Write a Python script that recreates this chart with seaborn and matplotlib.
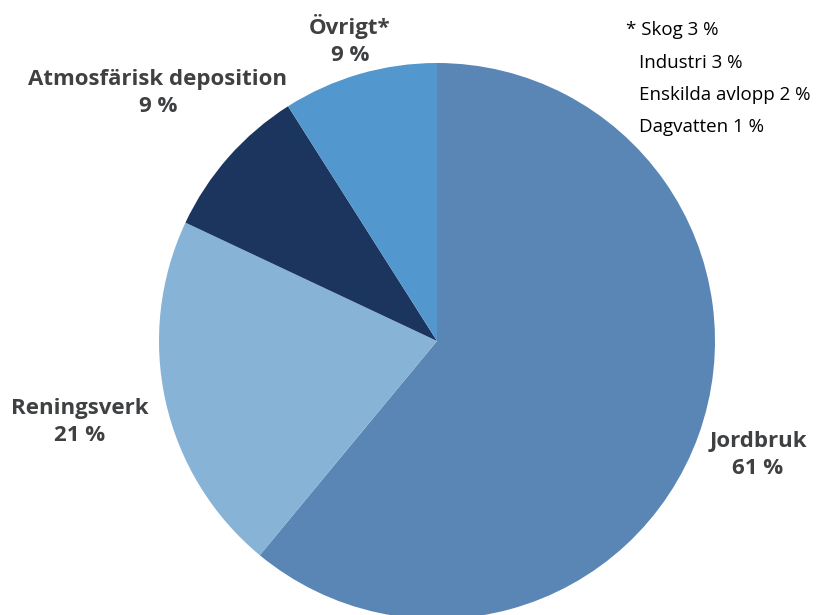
import matplotlib
matplotlib.use("Agg")
import matplotlib.pyplot as plt
import seaborn as sns

sns.set_theme(style="white")
plt.rcParams["font.family"] = ["Open Sans", "DejaVu Sans"]

# Sources of the load, in percent, clockwise from the top
categories = ["Jordbruk", "Reningsverk", "Atmosfärisk deposition", "Övrigt*"]
shares = [61, 21, 9, 9]
colors = ["#5a86b5", "#87b3d6", "#1c355e", "#5297cd"]

# Breakdown of the "Övrigt" group
other_names = ["Skog", "Industri", "Enskilda avlopp", "Dagvatten"]
other_shares = [3, 3, 2, 1]

W, H = 817, 615
fig = plt.figure(figsize=(W / 100, H / 100), dpi=100)
ax = fig.add_axes([0, 0, 1, 1])

# Pie centre and radius in pixels
cx, cy, r = 437, 341, 278

ax.pie(shares, colors=colors, startangle=90, counterclock=False,
       radius=1, center=(0, 0), frame=True,
       wedgeprops=dict(linewidth=0))
ax.set_xlim(-cx / r, (W - cx) / r)
ax.set_ylim(-(H - cy) / r, cy / r)
ax.axis("off")

label_pos = {
    "Jordbruk": (758, 455),
    "Reningsverk": (80, 422),
    "Atmosfärisk deposition": (158, 93),
    "Övrigt*": (350, 40),
}
for name, val in zip(categories, shares):
    px, py = label_pos[name]
    fig.text(px / W, 1 - py / H, f"{name}\n{val} %", ha="center", va="center",
             fontsize=16, fontweight="bold", color="#3f4042",
             linespacing=1.4)

# Footnote listing the components of "Övrigt"
y0 = 30
for i, (n, v) in enumerate(zip(other_names, other_shares)):
    prefix = "* " if i == 0 else ""
    x0 = 626 if i == 0 else 639
    fig.text(x0 / W, 1 - (y0 + 32.5 * i) / H, f"{prefix}{n} {v} %",
             ha="left", va="center", fontsize=13.5, color="#000000")

fig.savefig("out.png", dpi=100)
